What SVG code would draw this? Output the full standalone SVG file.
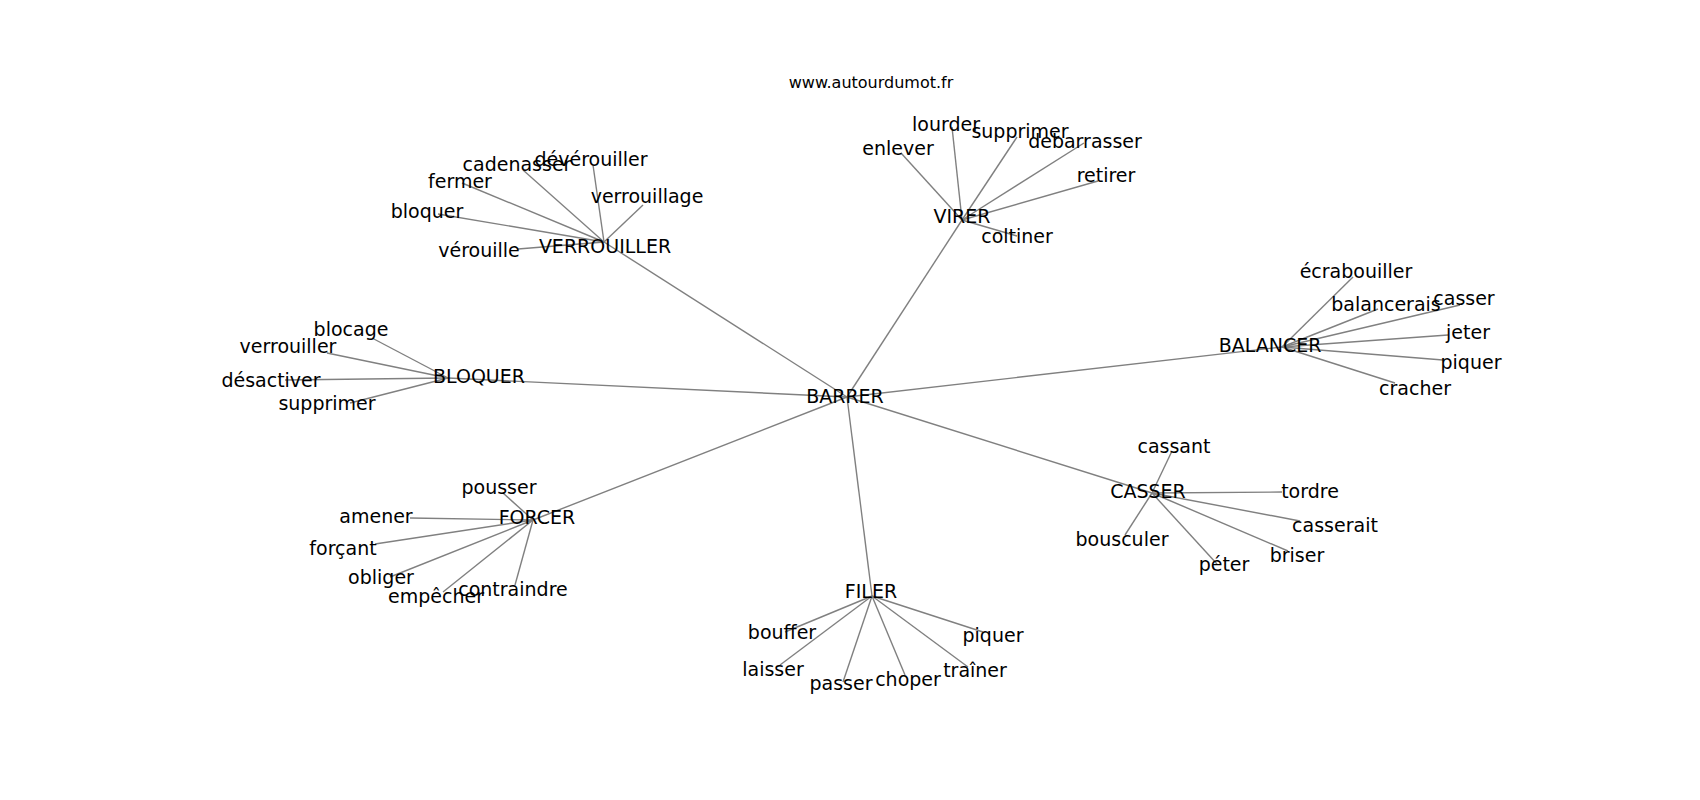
<svg xmlns="http://www.w3.org/2000/svg" width="1700" height="800" viewBox="0 0 1700 800">
<style>
.e{stroke:#808080;stroke-width:1.4;fill:none}
text{font-family:"DejaVu Sans",sans-serif;font-size:19px;fill:#000;text-anchor:middle}
.t{font-size:16px}
</style>
<rect width="1700" height="800" fill="#fff"/>
<g id="connectors">
<line class="e" x1="847" y1="397" x2="604" y2="242"/>
<line class="e" x1="847" y1="397" x2="962" y2="220"/>
<line class="e" x1="847" y1="397" x2="1282" y2="347"/>
<line class="e" x1="847" y1="397" x2="448" y2="378"/>
<line class="e" x1="847" y1="397" x2="533" y2="520"/>
<line class="e" x1="847" y1="397" x2="872" y2="596"/>
<line class="e" x1="847" y1="397" x2="1152" y2="493"/>
<line class="e" x1="604" y1="242" x2="518" y2="249"/>
<line class="e" x1="604" y1="242" x2="438" y2="214"/>
<line class="e" x1="604" y1="242" x2="462" y2="183"/>
<line class="e" x1="604" y1="242" x2="523" y2="170"/>
<line class="e" x1="604" y1="242" x2="593" y2="165"/>
<line class="e" x1="604" y1="242" x2="643" y2="205"/>
<line class="e" x1="962" y1="220" x2="952" y2="127"/>
<line class="e" x1="962" y1="220" x2="1017" y2="137"/>
<line class="e" x1="962" y1="220" x2="1084" y2="143"/>
<line class="e" x1="962" y1="220" x2="901" y2="153"/>
<line class="e" x1="962" y1="220" x2="1098" y2="181"/>
<line class="e" x1="962" y1="220" x2="1017" y2="236"/>
<line class="e" x1="1282" y1="347" x2="1353" y2="277"/>
<line class="e" x1="1282" y1="347" x2="1378" y2="309"/>
<line class="e" x1="1282" y1="347" x2="1460" y2="305"/>
<line class="e" x1="1282" y1="347" x2="1448" y2="335"/>
<line class="e" x1="1282" y1="347" x2="1443" y2="360"/>
<line class="e" x1="1282" y1="347" x2="1395" y2="383"/>
<line class="e" x1="448" y1="378" x2="372" y2="338"/>
<line class="e" x1="448" y1="378" x2="327" y2="353"/>
<line class="e" x1="448" y1="378" x2="285" y2="380"/>
<line class="e" x1="448" y1="378" x2="350" y2="403"/>
<line class="e" x1="533" y1="520" x2="503" y2="493"/>
<line class="e" x1="533" y1="520" x2="410" y2="518"/>
<line class="e" x1="533" y1="520" x2="375" y2="544"/>
<line class="e" x1="533" y1="520" x2="390" y2="577"/>
<line class="e" x1="533" y1="520" x2="443" y2="592"/>
<line class="e" x1="533" y1="520" x2="515" y2="585"/>
<line class="e" x1="872" y1="596" x2="785" y2="632"/>
<line class="e" x1="872" y1="596" x2="780" y2="665"/>
<line class="e" x1="872" y1="596" x2="843" y2="682"/>
<line class="e" x1="872" y1="596" x2="905" y2="675"/>
<line class="e" x1="872" y1="596" x2="968" y2="667"/>
<line class="e" x1="872" y1="596" x2="983" y2="632"/>
<line class="e" x1="1152" y1="493" x2="1172" y2="451"/>
<line class="e" x1="1152" y1="493" x2="1282" y2="492"/>
<line class="e" x1="1152" y1="493" x2="1300" y2="521"/>
<line class="e" x1="1152" y1="493" x2="1125" y2="535"/>
<line class="e" x1="1152" y1="493" x2="1217" y2="564"/>
<line class="e" x1="1152" y1="493" x2="1288" y2="551"/>
</g>
<g id="title"><text class="t" x="871" y="88">www.autourdumot.fr</text></g>
<g id="n-barrer"><text x="845" y="403">BARRER</text></g>
<g id="n-verrouiller"><text x="605" y="253">VERROUILLER</text></g>
<g id="n-verouille"><text x="479" y="257">vérouille</text></g>
<g id="n-bloquer1"><text x="427" y="218">bloquer</text></g>
<g id="n-fermer"><text x="460" y="188">fermer</text></g>
<g id="n-cadenasser"><text x="517" y="171">cadenasser</text></g>
<g id="n-deverouiller"><text x="591" y="166">dévérouiller</text></g>
<g id="n-verrouillage"><text x="647" y="203">verrouillage</text></g>
<g id="n-virer"><text x="962" y="223">VIRER</text></g>
<g id="n-lourder"><text x="946" y="131">lourder</text></g>
<g id="n-supprimer1"><text x="1020" y="138">supprimer</text></g>
<g id="n-debarrasser"><text x="1085" y="148">debarrasser</text></g>
<g id="n-enlever"><text x="898" y="155">enlever</text></g>
<g id="n-retirer"><text x="1106" y="182">retirer</text></g>
<g id="n-coltiner"><text x="1017" y="243">coltiner</text></g>
<g id="n-balancer"><text x="1270" y="352">BALANCER</text></g>
<g id="n-ecrabouiller"><text x="1356" y="278">écrabouiller</text></g>
<g id="n-balancerais"><text x="1386" y="311">balancerais</text></g>
<g id="n-casser1"><text x="1464" y="305">casser</text></g>
<g id="n-jeter"><text x="1468" y="339">jeter</text></g>
<g id="n-piquer1"><text x="1471" y="369">piquer</text></g>
<g id="n-cracher"><text x="1415" y="395">cracher</text></g>
<g id="n-bloquer"><text x="479" y="383">BLOQUER</text></g>
<g id="n-blocage"><text x="351" y="336">blocage</text></g>
<g id="n-verrouiller2"><text x="288" y="353">verrouiller</text></g>
<g id="n-desactiver"><text x="271" y="387">désactiver</text></g>
<g id="n-supprimer2"><text x="327" y="410">supprimer</text></g>
<g id="n-forcer"><text x="537" y="524">FORCER</text></g>
<g id="n-pousser"><text x="499" y="494">pousser</text></g>
<g id="n-amener"><text x="376" y="523">amener</text></g>
<g id="n-forcant"><text x="343" y="555">forçant</text></g>
<g id="n-obliger"><text x="381" y="584">obliger</text></g>
<g id="n-empecher"><text x="436" y="603">empêcher</text></g>
<g id="n-contraindre"><text x="513" y="596">contraindre</text></g>
<g id="n-filer"><text x="871" y="598">FILER</text></g>
<g id="n-bouffer"><text x="782" y="639">bouffer</text></g>
<g id="n-laisser"><text x="773" y="676">laisser</text></g>
<g id="n-passer"><text x="841" y="690">passer</text></g>
<g id="n-choper"><text x="908" y="686">choper</text></g>
<g id="n-trainer"><text x="975" y="677">traîner</text></g>
<g id="n-piquer2"><text x="993" y="642">piquer</text></g>
<g id="n-casser"><text x="1148" y="498">CASSER</text></g>
<g id="n-cassant"><text x="1174" y="453">cassant</text></g>
<g id="n-tordre"><text x="1310" y="498">tordre</text></g>
<g id="n-casserait"><text x="1335" y="532">casserait</text></g>
<g id="n-bousculer"><text x="1122" y="546">bousculer</text></g>
<g id="n-peter"><text x="1224" y="571">péter</text></g>
<g id="n-briser"><text x="1297" y="562">briser</text></g>
</svg>
